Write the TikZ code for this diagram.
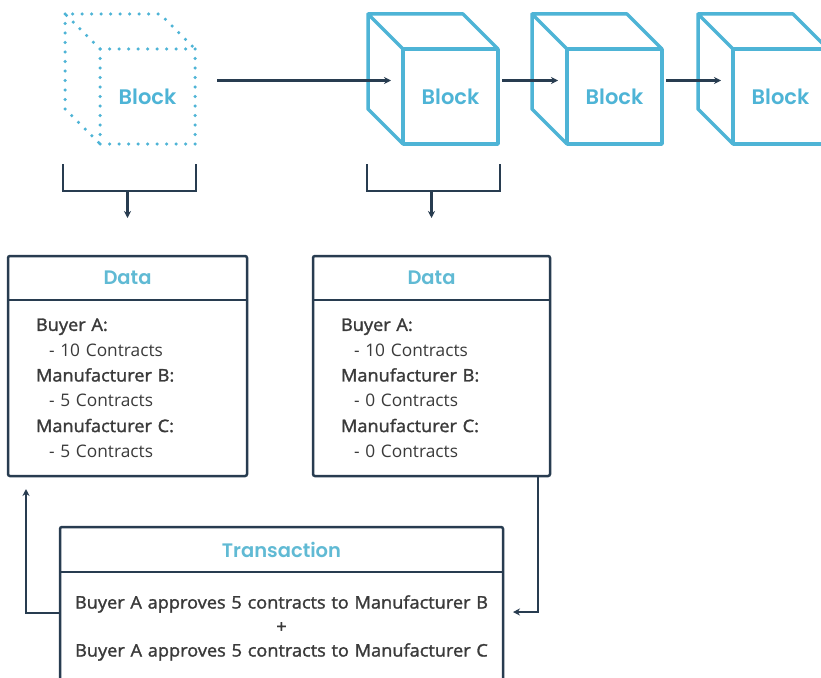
\documentclass[tikz,border=0pt]{standalone}
\usepackage{fontspec}
\setmainfont{Open Sans}
\newfontfamily\semifont{Open Sans}[FakeBold=1.6, FakeStretch=1.05]
\newfontfamily\titlefont{Poppins SemiBold}
\usetikzlibrary{positioning,calc,arrows.meta}
\definecolor{chainblue}{RGB}{78,180,214}
\definecolor{titleblue}{RGB}{96,186,212}
\definecolor{navy}{RGB}{40,60,80}
\definecolor{bodygray}{RGB}{58,58,58}
\tikzset{
        % Front face of a block
        block/.style={rectangle, draw=chainblue, line width=3.5pt, line join=round, minimum size=95pt, inner sep=0pt, outer sep=0pt, text=chainblue, font=\titlefont\fontsize{21}{24}\selectfont},
        % Block not yet in the chain
        block_dotted/.style={block, dash pattern=on 0pt off 9.5pt, line cap=round},
        % Back edges of a block
        cube_line/.style={draw=chainblue, line width=3.5pt, line join=round},
        cube_dots/.style={cube_line, dash pattern=on 0pt off 9.5pt, line cap=round},
        % Box titles
        box_title/.style={rectangle, inner sep=0pt, outer sep=0pt, text=titleblue, font=\titlefont\fontsize{19.5}{22}\selectfont},
        % Box contents
        box_body/.style={rectangle, inner sep=0pt, outer sep=0pt, text=bodygray, font=\fontsize{17.3}{25.3}\selectfont},
        box_frame/.style={draw=navy, line width=2.5pt, rounded corners=2pt},
        bracket/.style={draw=navy, line width=2.5pt},
        link/.style={draw=navy, line width=2.4pt, -{Stealth[length=7pt,width=7pt]}}
}
\newcommand{\cubeback}[2]{%
  \path[#2] (#1.north west) -- ++(-35,-35) -- ++(95,0) -- (#1.north east)
    (#1.north west) ++(-35,-35) -- ++(0,95) -- (#1.south west);}
\newcommand{\who}[1]{{\semifont #1}}
\begin{document}
\begin{tikzpicture}[x=1pt, y=-1pt, node distance=69pt]
    \useasboundingbox (0,0) rectangle (821,677);
    \clip (0,0) rectangle (821,677);
    \fill[white] (0,0) rectangle (821,677);

    % chain of blocks
    \node[block_dotted] (blk1) at (147.5,96.5) {Block};
    \node[block] (blk2) at (450.5,96.5) {Block};
    \node[block, right=of blk2] (blk3) {Block};
    \node[block, right=71pt of blk3] (blk4) {Block};
    \cubeback{blk1}{cube_dots}
    \cubeback{blk2}{cube_line}
    \cubeback{blk3}{cube_line}
    \cubeback{blk4}{cube_line}

    \draw[link] ([xshift=22pt,yshift=16pt]blk1.east) -- ([xshift=-12pt,yshift=16pt]blk2.west);
    \draw[link] ([xshift=4pt,yshift=16pt]blk2.east) -- ([xshift=-9pt,yshift=16pt]blk3.west);
    \draw[link] ([xshift=4pt,yshift=16pt]blk3.east) -- ([xshift=-12pt,yshift=16pt]blk4.west);

    % data boxes
    \node[box_title, minimum width=239pt, minimum height=44pt] (dat1t) at (127.5,278) {Data};
    \node[box_body, below=0pt of dat1t, minimum width=239pt, minimum height=176pt, text width=183pt, align=left] (dat1) {%
        \who{Buyer A:}\\ \hspace*{13pt}- 10 Contracts\\ \who{Manufacturer B:}\\ \hspace*{13pt}- 5 Contracts\\
        \who{Manufacturer C:}\\ \hspace*{13pt}- 5 Contracts};
    \node[box_title, minimum width=237pt, minimum height=44pt] (dat2t) at (431.5,278) {Data};
    \node[box_body, below=0pt of dat2t, minimum width=237pt, minimum height=176pt, text width=181pt, align=left] (dat2) {%
        \who{Buyer A:}\\ \hspace*{13pt}- 10 Contracts\\ \who{Manufacturer B:}\\ \hspace*{13pt}- 0 Contracts\\
        \who{Manufacturer C:}\\ \hspace*{13pt}- 0 Contracts};
    \draw[box_frame] (dat1t.north west) rectangle (dat1.south east);
    \draw[box_frame] (dat1t.south west) -- (dat1t.south east);
    \draw[box_frame] (dat2t.north west) rectangle (dat2.south east);
    \draw[box_frame] (dat2t.south west) -- (dat2t.south east);

    % brackets from blocks to data
    \draw[bracket] ($(blk1.south west)+(-37,20)$) |- ($(dat1t.north)+(0,-65)$) -| ($(blk1.south east)+(1,20)$);
    \draw[bracket] ($(blk2.south west)+(-36,20)$) |- ($(dat2t.north)+(0,-65)$) -| ($(blk2.south east)+(2,20)$);
    \coordinate (dat1in) at ($(dat1t.north)+(0,-38)$);
    \coordinate (dat2in) at ($(dat2t.north)+(0,-38)$);
    \draw[link] ($(dat1t.north)+(0,-65)$) -- (dat1in);
    \draw[link] ($(dat2t.north)+(0,-65)$) -- (dat2in);

    % transaction box
    \node[box_title, minimum width=443pt, minimum height=45pt] (trnt) at (281.5,549.5) {Transaction};
    \node[box_body, below=0pt of trnt, minimum height=112pt, text width=443pt, align=center, font=\semifont\fontsize{17.3}{24}\selectfont] (trn) {%
        Buyer A approves 5 contracts to Manufacturer B\\ +\\ Buyer A approves 5 contracts to Manufacturer C};
    \draw[box_frame] (trnt.north west) rectangle (trn.south east);
    \draw[box_frame] (trnt.south west) -- (trnt.south east);

    \coordinate (trnin) at ([xshift=10pt,yshift=16pt]trn.east);
    \coordinate (dat1back) at ([xshift=18pt,yshift=-13pt]dat1.south west);
    \draw[link] ([xshift=-12pt]dat2.south east) |- (trnin);
    \draw[link] ([yshift=15pt]trn.west) -| (dat1back);
\end{tikzpicture}
\end{document}
